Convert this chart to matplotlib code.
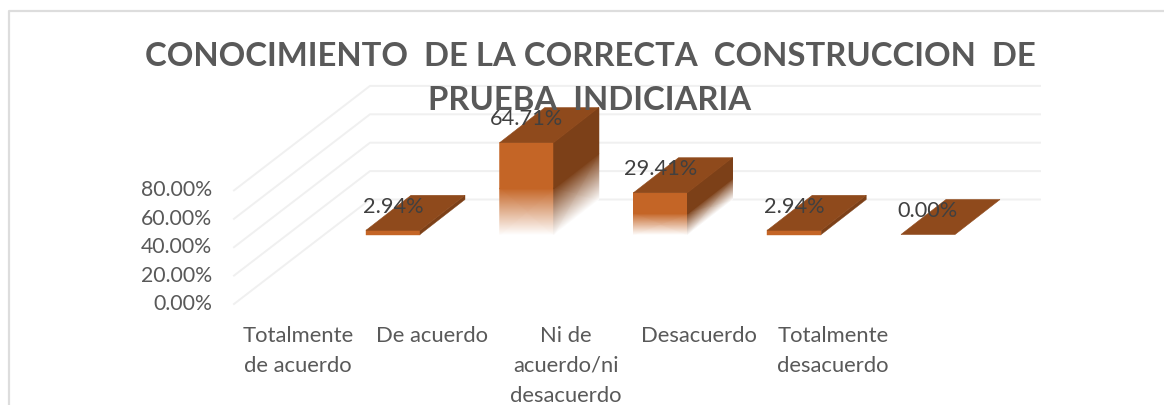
import numpy as np
import matplotlib
matplotlib.use("Agg")
import matplotlib.pyplot as plt
from matplotlib.colors import LinearSegmentedColormap

W, H = 1164, 405
categories = ["Totalmente\nde acuerdo", "De acuerdo", "Ni de\nacuerdo/ni\ndesacuerdo",
              "Desacuerdo", "Totalmente\ndesacuerdo"]
values = [2.94, 64.71, 29.41, 2.94, 0.00]
value_labels = ["2.94%", "64.71%", "29.41%", "2.94%", "0.00%"]
y_ticks = [0, 20, 40, 60, 80]
y_tick_labels = ["0.00%", "20.00%", "40.00%", "60.00%", "80.00%"]
title = "CONOCIMIENTO  DE LA CORRECTA  CONSTRUCCION  DE\nPRUEBA  INDICIARIA"

FRONT, TOP, SIDE = "#C46526", "#8F4A1C", "#7C4018"
GRID, FRAME, TICK, LABEL, TITLE = "#F0F0F0", "#DDDDDD", "#595959", "#404040", "#595959"
PX_X, PX_Y = 133.75, 1.42       # pixels per category, pixels per percent
X0, Y0 = 393.0, 234.5           # pixel position of first bar centre / zero line
DX, DY = 45 / PX_X, 35 / PX_Y   # bar depth, in data units
HALF = 27 / PX_X
WALL_L, WALL_R = (370 - X0) / PX_X, (1040 - X0) / PX_X
WALL_BASE = (234.5 - 199.5) / PX_Y
FLOOR_X, FLOOR_Y = (234 - 370) / PX_X, -104.5 / PX_Y

fig = plt.figure(figsize=(W / 100, H / 100), dpi=100)
ax = fig.add_axes([0, 0, 1, 1])
ax.set_xlim(-X0 / PX_X, (W - X0) / PX_X)
ax.set_ylim((Y0 - H) / PX_Y, Y0 / PX_Y)
ax.autoscale(False)
ax.axis("off")
font = "Lato"

# frame: left and top edges only, the rest is cropped away
xl, xr = (8.5 - X0) / PX_X, (W + 2 - X0) / PX_X
yt, yb = (Y0 - 11) / PX_Y, (Y0 - H - 2) / PX_Y
ax.plot([xl, xl, xr], [yb, yt, yt], color=FRAME, lw=1.6, zorder=1)

# gridlines: back wall + left floor wall
for t, lab in zip(y_ticks, y_tick_labels):
    y = WALL_BASE + t
    ax.plot([WALL_L + FLOOR_X, WALL_L, WALL_R], [y + FLOOR_Y, y, y], color=GRID, lw=1.4, zorder=1)
    ax.text((212 - X0) / PX_X, y + FLOOR_Y, lab,
            ha="right", va="center", fontsize=15.3, color=TICK, family=font, zorder=6)


def faded_face(x0, x1, h, dy, col, fade):
    """Draw a face rising from 0 to h, going white over its lower part."""
    cmap = LinearSegmentedColormap.from_list("f", ["#FFFFFF", col])
    fracs = np.array([0, fade, 1.0])
    yy = np.outer(fracs * h, [1, 1]) + np.array([0, dy])
    xx = np.tile([x0, x1], (3, 1))
    cc = np.array([[0.0, 0.0], [1.0, 1.0], [1.0, 1.0]])
    ax.pcolormesh(xx, yy, cc, shading="gouraud", cmap=cmap, vmin=0, vmax=1, zorder=3)


for i, v in enumerate(values):
    l, r = i - HALF, i + HALF
    if v > 10:
        faded_face(l, r, v, 0, FRONT, 0.5)
        faded_face(r, r + DX, v, DY, SIDE, 0.5)
    elif v > 0:
        ax.fill([l, r, r, l], [0, 0, v, v], color=FRONT, lw=0.3, zorder=3)
        ax.fill([r, r + DX, r + DX, r], [0, DY, DY + v, v], color=SIDE, lw=0.3, zorder=3)
    ax.fill([l, r, r + DX, l + DX], [v, v, v + DY, v + DY], color=TOP, lw=0.4, zorder=4)
    ax.text(i, v + DY * 0.68, value_labels[i],
            ha="center", va="center", fontsize=15.7, color=LABEL, family=font, zorder=7)

for i, lab in enumerate(categories):
    ax.text(i - 95 / PX_X, (Y0 - 326) / PX_Y, lab, ha="center", va="top", fontsize=15.8,
            color=TICK, family=font, linespacing=1.62, zorder=6)

ax.text((590 - X0) / PX_X, (Y0 - 42.5) / PX_Y, title, ha="center", va="top", fontsize=23.7,
        weight="bold", color=TITLE, family="Lato", linespacing=1.6, zorder=5)

fig.savefig("out.png", dpi=100, facecolor="white")
